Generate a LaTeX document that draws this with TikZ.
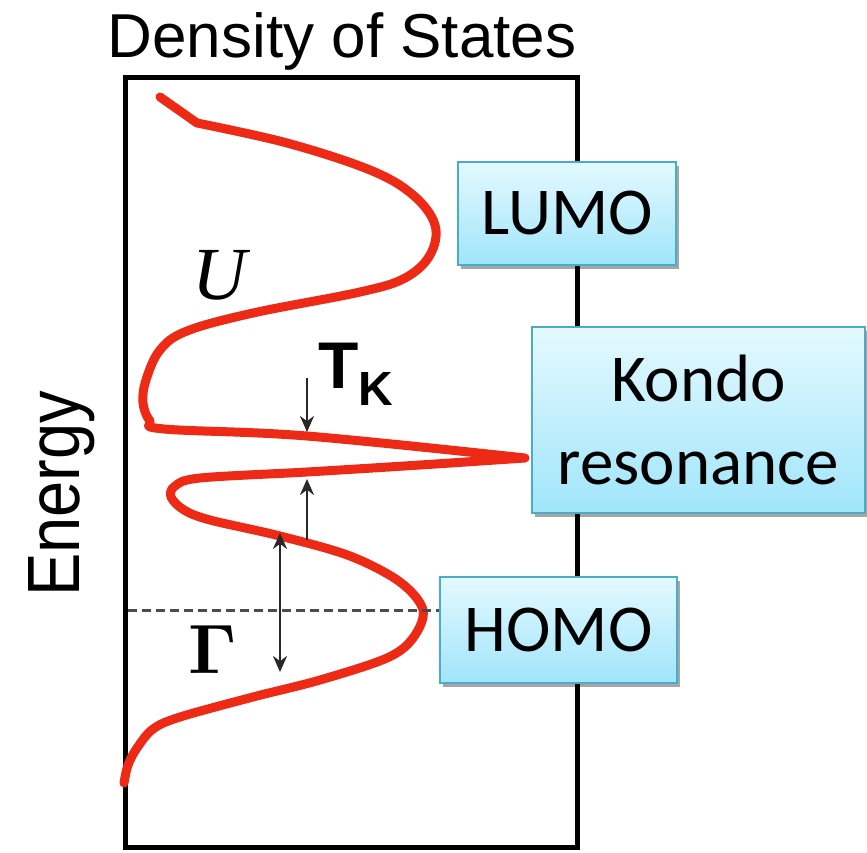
\documentclass[tikz,border=0pt]{standalone}
\usepackage[no-math]{fontspec}
\setmainfont{Liberation Sans}
\newfontfamily\calib{Carlito}
\newfontfamily\tnr{Liberation Serif}
\usetikzlibrary{arrows.meta,shadows}
\definecolor{curvered}{RGB}{236,42,22}
\definecolor{boxedge}{RGB}{75,172,198}
\definecolor{boxtop}{RGB}{228,249,255}
\definecolor{boxbot}{RGB}{160,229,250}
\definecolor{arrowgray}{RGB}{40,40,40}
\begin{document}
\begin{tikzpicture}[x=1pt,y=-1pt,
  dos/.style={draw=curvered, line width=9pt, line cap=round, line join=round},
  lvl/.style={draw=boxedge, line width=2pt, top color=boxtop, bottom color=boxbot,
    inner sep=0pt, font=\calib\fontsize{67}{83}\selectfont, align=center,
    drop shadow={shadow xshift=3pt, shadow yshift=-4pt, opacity=0.35, fill=black}},
  arr/.style={draw=arrowgray, line width=2.5pt, -{Stealth[length=16pt,width=14pt]}},
  darr/.style={draw=arrowgray, line width=2.5pt, {Stealth[length=16pt,width=14pt]}-{Stealth[length=16pt,width=14pt]}},
  frame/.style={draw=black, line width=5pt},
  fermi/.style={draw=black!70, line width=3pt, dash pattern=on 9pt off 5pt}]
\useasboundingbox (0,0) rectangle (867,853);

% plot frame
\node[frame, inner sep=0pt, minimum width=452pt, minimum height=769pt] (frame) at (351,462.5) {};

% title and axis label
\node[anchor=base, inner sep=0pt, font=\fontsize{62}{62}\selectfont] (title) at (342,58) {Density of States};
\node[anchor=base west, rotate=90, inner sep=0pt, font=\fontsize{65}{65}\selectfont] (energy) at (79,597) {\scalebox{1}[1.14]{Energy}};

% density of states curve
\draw[dos] (160,97) -- (197,123)
  -- plot[smooth, tension=0.6] coordinates {(197,123) (287,143) (370,170) (413,195) (435,225) (430,255) (405,278) (360,292) (253,313) (187,331) (160,350) (146,380) (143,403) (150,421) (164,429) (307,436) (525,458)}
  -- plot[smooth, tension=0.55] coordinates {(525,458) (420,465) (307,472) (200,478) (175,486) (171,497) (184,510) (210,520) (280,536) (350,556) (400,582) (423,610) (413,638) (387,658) (320,680) (253,697) (180,717) (153,729) (137,748) (128,765) (124,783)};

% level boxes
\node[lvl, minimum width=218pt, minimum height=103pt] (lumo) at (567,213.5) {LUMO};
\node[lvl, minimum width=333pt, minimum height=186pt] (kondo) at (698.5,420) {Kondo\\resonance};
\node[lvl, minimum width=237pt, minimum height=106pt] (homo) at (558.5,630) {HOMO};

% Fermi level
\coordinate (fl) at (128,610);
\draw[fermi] (fl) -- (fl -| homo.west);

% arrows
\coordinate (tkda) at (307,378);
\coordinate (tkdb) at (307,432);
\coordinate (tkua) at (307,540);
\coordinate (tkub) at (307,479);
\coordinate (ga) at (280,533);
\coordinate (gb) at (280,672);
\draw[arr] (tkda) -- (tkdb);
\draw[arr] (tkua) -- (tkub);
\draw[darr] (ga) -- (gb);

% labels
\node[anchor=base west, inner sep=0pt] (tk) at (318,388)
  {\fontsize{66}{66}\selectfont\bfseries T\raisebox{-17pt}{\fontsize{48}{48}\selectfont K}};
\node[inner sep=0pt] (u) at (220,275) {\tnr\itshape\fontsize{75}{75}\selectfont U};
\node[inner sep=0pt] (gamma) at (213,649) {\scalebox{7}{$\mathbf{\Gamma}$}};
\end{tikzpicture}
\end{document}
